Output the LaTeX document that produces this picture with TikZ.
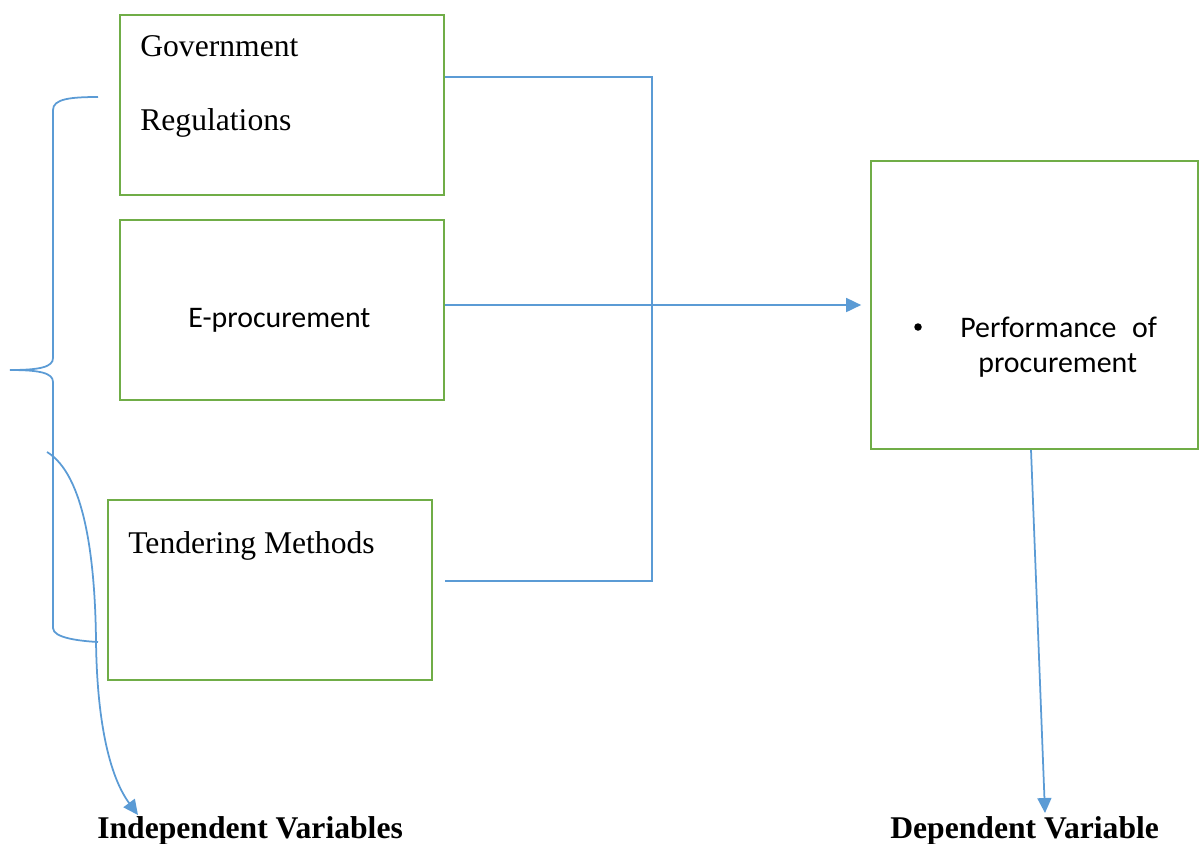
\documentclass[tikz,border=0pt]{standalone}
\usepackage{fontspec}
\setmainfont{Liberation Serif}
\newfontfamily\calib{Carlito}
\usetikzlibrary{arrows.meta}
\definecolor{boxgreen}{RGB}{112,173,71}
\definecolor{lineblue}{RGB}{91,155,213}
\begin{document}
\begin{tikzpicture}[x=0.02cm,y=-0.02cm,
  varbox/.style={draw=boxgreen,line width=1pt,inner sep=0pt,minimum width=6.48cm,minimum height=3.6cm},
  conn/.style={draw=lineblue,line width=1pt},
  tip/.style={-{Triangle[length=0.3cm,width=0.28cm]}},
  serif/.style={font=\fontsize{18}{21}\selectfont,inner sep=0pt,anchor=base west},
  sans/.style={font=\calib\fontsize{17}{20}\selectfont,inner sep=0pt,anchor=base west},
  lab/.style={font=\bfseries\fontsize{18}{21}\selectfont,inner sep=0pt,anchor=base west}]
\useasboundingbox (0,0) rectangle (1199,843);
% boxes
\node[varbox] (gov) at (282,105) {};
\node[varbox] (eproc) at (282,310) {};
\node[varbox] (tend) at (270,590) {};
\node[varbox,minimum width=6.54cm,minimum height=5.76cm] (perf) at (1034.5,305) {};
% texts
\node[serif] (t1) at (140,56) {Government};
\node[serif] (t2) at (140,130) {Regulations};
\node[sans] (t3) at (188,327) {E-procurement};
\node[serif] (t4) at (128,553) {Tendering Methods};
\node[circle,fill=black,inner sep=0pt,minimum size=0.15cm] (bul) at (918,327) {};
\node[sans] (t5) at (960,337) {Performance\hspace{0.3em} of};
\node[sans] (t6) at (978,372) {procurement};
\node[lab] (ind) at (97,838) {Independent Variables};
\node[lab] (dep) at (890,838) {Dependent Variable};
% connectors
\coordinate (jt) at (652,77);
\coordinate (jb) at (652,581);
\draw[conn] (gov.east |- jt) -- (jt) -- (jb) -- (gov.east |- jb);
\draw[conn,tip,shorten >=0.18cm] (eproc.east |- perf.west) -- (perf.west);
\coordinate (dtip) at (1045,813);
\draw[conn,tip] ([xshift=-0.07cm]perf.south) -- (dtip);
% brace
\coordinate (bt) at (98,97);
\coordinate (bm) at (10,370);
\coordinate (bb) at (98,642);
\draw[conn] (bt) .. controls (70,97) and (53,99) .. (53,110) -- (53,358)
  .. controls (53,367) and (40,370) .. (bm)
  .. controls (40,370) and (53,373) .. (53,382) -- (53,628)
  .. controls (53,638) and (80,641) .. (bb);
% curved arrow
\coordinate (cs) at (47,452);
\coordinate (ctip) at (138,815);
\draw[conn,tip] (cs) .. controls (85,475) and (95,560) .. (96,640)
  .. controls (97,730) and (112,780) .. (ctip);
\end{tikzpicture}
\end{document}
